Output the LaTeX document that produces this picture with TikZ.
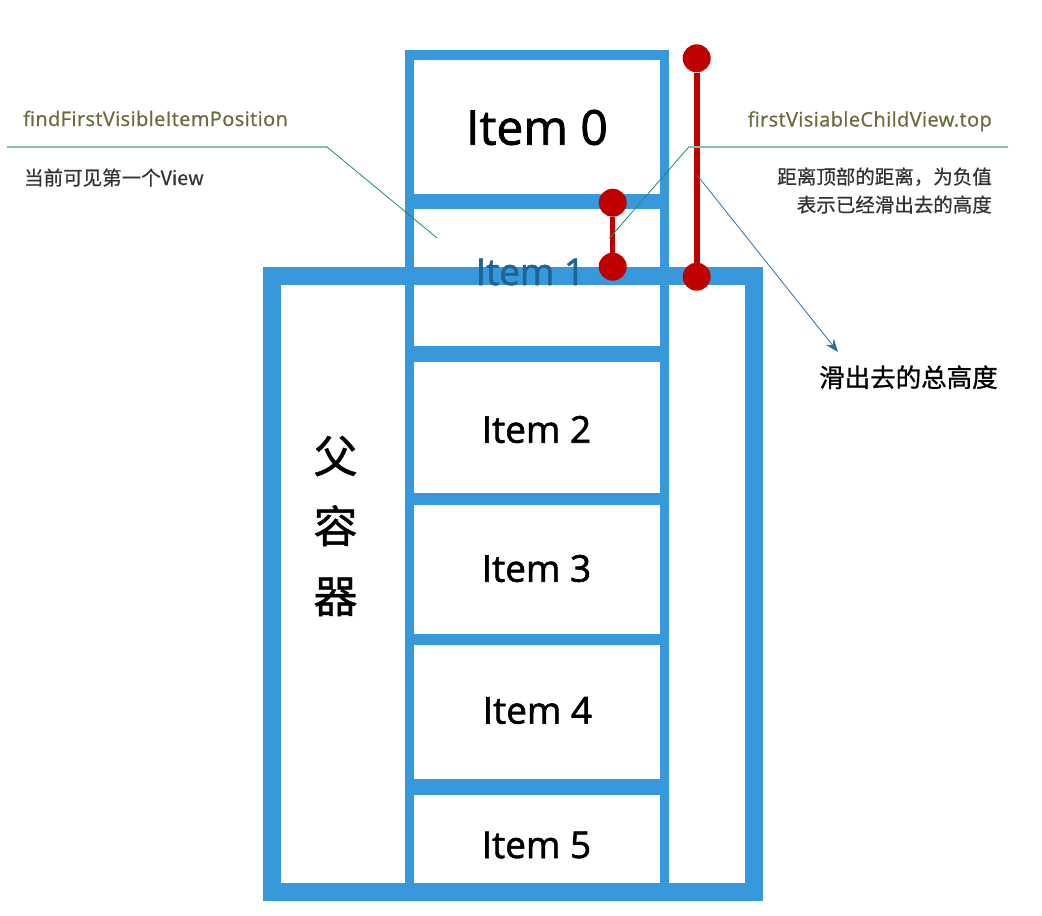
\documentclass[tikz,border=0pt]{standalone}
\usepackage{fontspec}
\setmainfont{Open Sans}[FakeBold=1.2,BoldFont={Open Sans}]
\newfontfamily\itemfont{Open Sans}[FakeBold=1.6]
\newfontfamily\labelfont{Open Sans}[FakeBold=0.8,LetterSpace=2]
\newfontfamily\cjk{Noto Sans CJK SC}[FakeBold=0.6]
\newfontfamily\cjkbig{Noto Sans CJK SC}[FakeBold=1.0]
\usetikzlibrary{arrows.meta}
\definecolor{boxblue}{HTML}{3798DB}
\definecolor{itemone}{HTML}{1F6496}
\definecolor{dotred}{HTML}{C00000}
\definecolor{labelolive}{HTML}{6B6A3C}
\definecolor{leadlight}{HTML}{7FBFB0}
\definecolor{leaddark}{HTML}{1A8A70}
\definecolor{arrowblue}{HTML}{2A6FA8}
\definecolor{graytext}{HTML}{333333}
\tikzset{
  boxline/.style={draw=boxblue},
  itemtext/.style={inner sep=0pt, font=\itemfont\fontsize{37}{44}\selectfont},
  reddot/.style={circle, fill=dotred, minimum size=28pt, inner sep=0pt},
  redline/.style={draw=dotred},
  leadh/.style={draw=leadlight, line width=1.6pt},
  leadd/.style={draw=leaddark, line width=0.8pt},
  olivelabel/.style={inner sep=0pt, text=labelolive, font=\labelfont\fontsize{20}{24}\selectfont},
  graylabel/.style={inner sep=0pt, text=graytext, font=\cjk\fontsize{19.5}{23}\selectfont},
}
\begin{document}
\begin{tikzpicture}[x=1pt,y=-1pt]
\useasboundingbox (0,0) rectangle (1042,916);
% item column
\draw[boxline, line width=9pt] (409,50) -- (409,901);
\draw[boxline, line width=9pt] (664.5,50) -- (664.5,901);
\draw[boxline, line width=10pt] (404.5,55) -- (669,55);
\draw[boxline, line width=15pt] (404.5,201.5) -- (669,201.5);
\draw[boxline, line width=16pt] (404.5,353.5) -- (669,353.5);
\draw[boxline, line width=12pt] (404.5,499) -- (669,499);
\draw[boxline, line width=11pt] (404.5,639.5) -- (669,639.5);
\draw[boxline, line width=16pt] (404.5,787) -- (669,787);
% parent container
\draw[boxline, line width=18pt] (272,276) rectangle (754,892);
% texts in items
\node[itemtext, font=\itemfont\fontsize{48}{58}\selectfont] (i0) at (537,127.5) {Item 0};
\node[itemtext, text=itemone] (i1) at (530.5,272) {Item 1};
\node[itemtext] (i2) at (536.5,429.5) {Item 2};
\node[itemtext] (i3) at (536.5,568.5) {Item 3};
\node[itemtext] (i4) at (537.5,710.5) {Item 4};
\node[itemtext] (i5) at (536.5,845) {Item 5};
\node[inner sep=0pt, align=center, font=\cjkbig\fontsize{44}{70}\selectfont] (parent) at (335.5,526) {父\\容\\器};
% red markers
\node[reddot] (a1) at (696.7,58.3) {};
\node[reddot] (a2) at (696.7,276.7) {};
\draw[redline, line width=6pt] (a1) -- (a2);
\node[reddot] (b1) at (612.7,202.7) {};
\node[reddot] (b2) at (612.7,266.7) {};
\draw[redline, line width=5pt] (b1) -- (b2);
% left annotation
\node[olivelabel, anchor=base west] (fl) at (23,126) {findFirstVisibleItemPosition};
\node[graylabel, anchor=base west] (fd) at (24,185) {当前可见第一个View};
\coordinate (l0) at (7,146.7);
\coordinate (l1) at (326.7,146.7);
\coordinate (l2) at (436.7,237.7);
\draw[leadh] (l0) -- (l1);
\draw[leadd] (l1) -- (l2);
% right annotation
\node[olivelabel, anchor=base east] (tl) at (992,126.5) {firstVisiableChildView.top};
\node[graylabel, anchor=base east] (td1) at (992,184) {距离顶部的距离，为负值};
\node[graylabel, anchor=base east] (td2) at (992,212) {表示已经滑出去的高度};
\coordinate (r0) at (1008,146.7);
\coordinate (r1) at (689,146.7);
\coordinate (r2) at (609.3,238.3);
\draw[leadh] (r0) -- (r1);
\draw[leadd] (r1) -- (r2);
% total scrolled height
\node[inner sep=0pt, anchor=base west, font=\cjkbig\fontsize{25.5}{30}\selectfont] (tot) at (819,387) {滑出去的总高度};
\coordinate (m0) at (697,175);
\coordinate (m1) at (838,352);
\draw[arrowblue, line width=0.8pt, -{Stealth[length=13pt,width=10pt]}] (m0) -- (m1);
\end{tikzpicture}
\end{document}
